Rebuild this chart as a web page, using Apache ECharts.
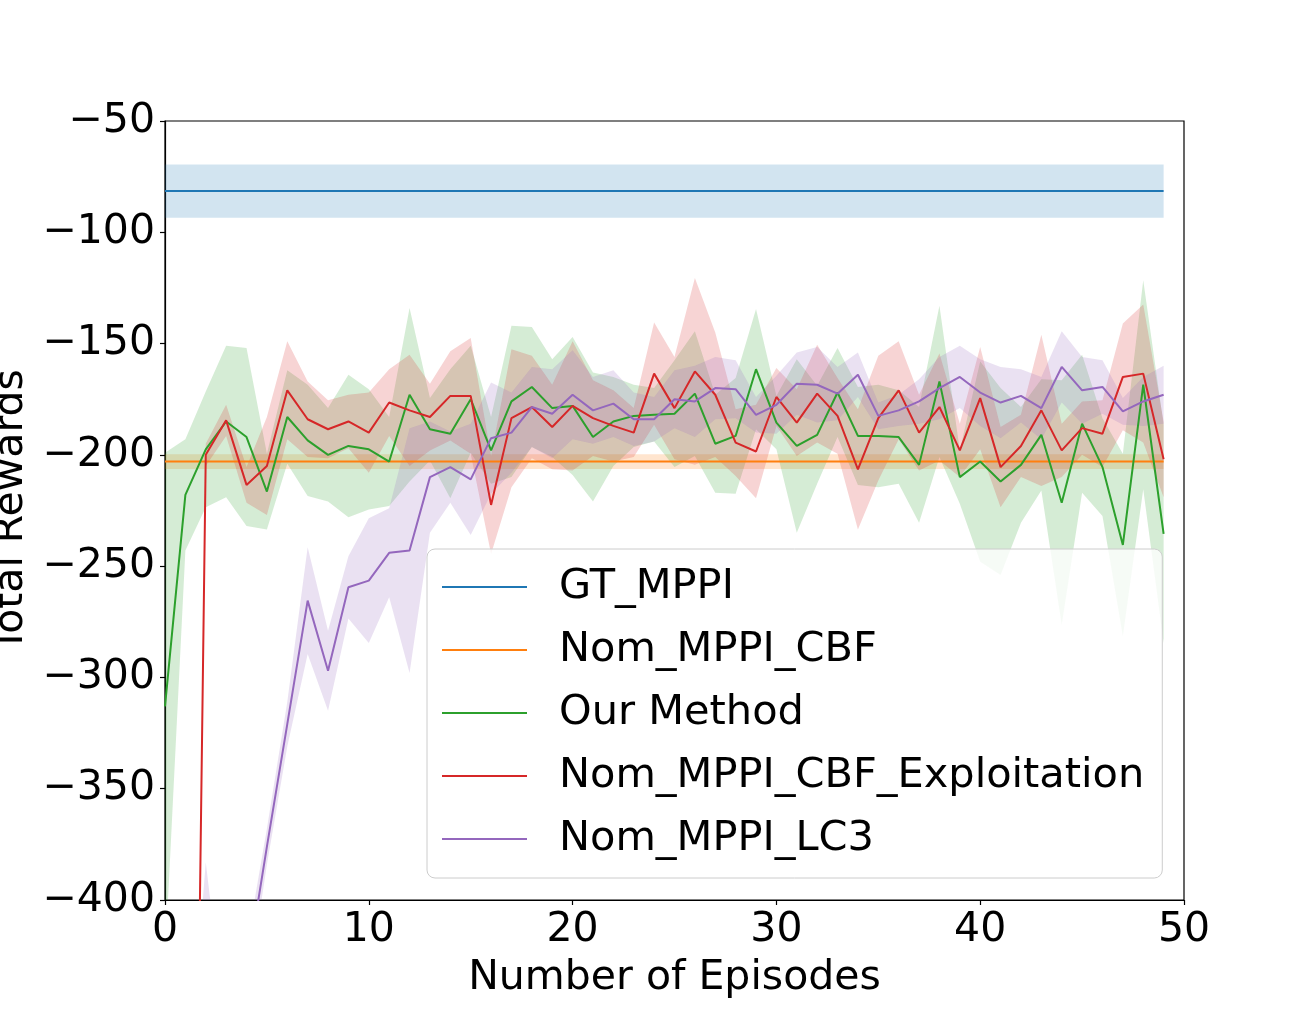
<!DOCTYPE html>
<html lang="en">
<head>
    <meta charset="UTF-8">
    <title>Total Rewards vs Episodes</title>
    <script src="https://cdn.jsdelivr.net/npm/echarts@6/dist/echarts.min.js"></script>
    <style>
        html, body { margin: 0; padding: 0; background: #fff; }
        #chart { width: 1316px; height: 1011px; }
    </style>
</head>
<body>
    <div id="chart"></div>
    <script>
        // episode index 0..49
        var episodes = [0,1,2,3,4,5,6,7,8,9,10,11,12,13,14,15,16,17,18,19,20,21,22,23,24,
                        25,26,27,28,29,30,31,32,33,34,35,36,37,38,39,40,41,42,43,44,45,46,47,48,49];

        // flat baselines (start / end episode)
        var flatEpisodes = [0, 49];
        var gtMean = [-81.5, -81.5];
        var gtStd = [12, 12];
        var cbfMean = [-203, -203];
        var cbfStd = [3.3, 3.3];

        var oursMean = [-313,-218,-197.5,-185,-192,-216.5,-183,-193.5,-200,-196,-197.5,-203,-173,-188.5,-190.5,-175,
                        -198,-176,-169.5,-179,-178,-192,-185,-182.5,-182,-181.5,-172.5,-195,-191.5,-161.5,-185.5,-196,
                        -191,-172,-191.5,-191.5,-192,-204.5,-167,-210,-203,-212,-204.5,-191,-221.5,-186,-205.5,-240.5,
                        -168.5,-235.5];
        var oursStd = [114,25,26,34,40,17,21,25,21,32,27,20,39,14,29,24,15,34,27,22,31,29,20,14,12,24,28,22,26,27,
                       12,39,22,20,22,23,21,26,34,12,45,42,26,25,55,31,22,41,47,49];

        var exploitMean = [-1000,-900,-200,-184.5,-213.5,-205,-171,-184,-188.5,-185,-190,-176.5,-180,-183,-173.5,-173.5,
                           -222.5,-183.5,-178.5,-187.5,-178,-183.5,-187,-190,-163.5,-179,-162.5,-173,-194.5,-198.5,-174,
                           -185.5,-172.5,-182.5,-206.5,-183.5,-171,-190,-178.5,-198,-174.5,-205.5,-196,-180,-198,-188,
                           -190.5,-165,-163.5,-202];
        var exploitStd = [30,30,5,7,8,22,22,17,13,12,18,15,25,15,20,26,22,31,23,19,29,17,16,11,23,23,42,28,15,21,
                          13,15,22,17,27,28,22,17,24,12,23,18,14,34,12,12,15,24,31,17];

        var lc3Mean = [-560,-520,-440,-480,-433,-376,-321,-265.5,-297,-259.5,-256.5,-244,-243,-210,-205.5,-211,
                       -192.5,-190,-178.5,-181.5,-173,-180,-177,-184,-184,-175,-176,-170,-170.5,-182,-177.5,-168,
                       -168.5,-172.5,-164,-182.5,-180,-176,-170,-165,-172,-176.5,-173.5,-179,-160.5,-171,-169.5,
                       -180.5,-176,-173];
        var lc3Std = [20,20,57,20,12,8,10,24,18,14,28,20,55,25,16,25,25,18,18,20,20,15,15,12,10,13,16,14,13,8,
                      13,14,17,12,10,6,7,10,14,14,15,16,12,14,16,15,12,6,11,13];

        var yTicks = [-400, -350, -300, -250, -200, -150, -100, -50];

        var FONT = 'DejaVu Sans';

        function pairs(xs, ys) {
            return xs.map(function (x, i) { return [x, ys[i]]; });
        }

        // shaded mean +/- std band, drawn as one polygon through the axis scales
        function bandSeries(color, xs, mean, std, z) {
            var rows = xs.map(function (x, i) { return [x, mean[i] - std[i], mean[i] + std[i]]; });
            return {
                type: 'custom', silent: true, clip: true, z: z,
                data: rows,
                encode: { x: 0, y: [1, 2] },
                renderItem: function (params, api) {
                    if (params.dataIndex !== 0) return;
                    var pts = [];
                    for (var i = 0; i < rows.length; i++) pts.push(api.coord([rows[i][0], rows[i][2]]));
                    for (var j = rows.length - 1; j >= 0; j--) pts.push(api.coord([rows[j][0], rows[j][1]]));
                    return {
                        type: 'polygon',
                        shape: { points: pts },
                        style: { fill: color, opacity: 0.2 }
                    };
                }
            };
        }

        function lineSeries(name, color, xs, mean, z) {
            return {
                name: name, type: 'line', color: color,
                data: pairs(xs, mean), showSymbol: false, silent: true,
                lineStyle: { color: color, width: 2 }, z: z
            };
        }

        var series = [
            bandSeries('#1f77b4', flatEpisodes, gtMean, gtStd, 1),
            bandSeries('#ff7f0e', flatEpisodes, cbfMean, cbfStd, 1),
            bandSeries('#2ca02c', episodes, oursMean, oursStd, 1),
            bandSeries('#d62728', episodes, exploitMean, exploitStd, 1),
            bandSeries('#9467bd', episodes, lc3Mean, lc3Std, 1),
            lineSeries('GT_MPPI', '#1f77b4', flatEpisodes, gtMean, 5),
            lineSeries('Nom_MPPI_CBF', '#ff7f0e', flatEpisodes, cbfMean, 5),
            lineSeries('Our Method', '#2ca02c', episodes, oursMean, 5),
            lineSeries('Nom_MPPI_CBF_Exploitation', '#d62728', episodes, exploitMean, 5),
            lineSeries('Nom_MPPI_LC3', '#9467bd', episodes, lc3Mean, 5)
        ];

        var chart = echarts.init(document.getElementById('chart'));

        var options = {
            animation: false,
            grid: {
                left: 165, right: 132, top: 121, bottom: 111,
                outerBoundsMode: 'none', containLabel: false,
                show: true, borderColor: '#000', borderWidth: 1.2, backgroundColor: 'transparent'
            },
            legend: {
                orient: 'vertical',
                left: 427, top: 549,
                padding: [17, 18, 18, 15],
                itemWidth: 85, itemHeight: 2.2, itemGap: 21,
                icon: 'rect',
                backgroundColor: 'rgba(255,255,255,0.8)',
                borderColor: '#cccccc', borderWidth: 1, borderRadius: 8,
                data: ['GT_MPPI', 'Nom_MPPI_CBF', 'Our Method', 'Nom_MPPI_CBF_Exploitation', 'Nom_MPPI_LC3'],
                textStyle: { fontFamily: FONT, fontSize: 41.5, color: '#000', lineHeight: 42, padding: [0, 0, 0, 27] },
                selectedMode: false,
                z: 50
            },
            xAxis: {
                type: 'value', min: 0, max: 50, interval: 10,
                name: 'Number of Episodes', nameLocation: 'middle', nameGap: 58,
                nameTextStyle: { fontFamily: FONT, fontSize: 41, color: '#000' },
                axisLine: { show: true, onZero: false, lineStyle: { color: '#000', width: 1.2 } },
                axisTick: { show: true, inside: false, length: 5, lineStyle: { color: '#000', width: 1.2 } },
                axisLabel: { fontFamily: FONT, fontSize: 41, color: '#000', margin: 10 },
                splitLine: { show: false }
            },
            yAxis: {
                type: 'value', min: yTicks[0], max: yTicks[yTicks.length - 1], interval: 50,
                name: 'Total Rewards', nameLocation: 'middle', nameGap: 130,
                nameTextStyle: { fontFamily: FONT, fontSize: 41, color: '#000' },
                axisLine: { show: true, onZero: false, lineStyle: { color: '#000', width: 1.2 } },
                axisTick: { show: true, inside: false, length: 5, lineStyle: { color: '#000', width: 1.2 } },
                axisLabel: {
                    fontFamily: FONT, fontSize: 41, color: '#000', margin: 10,
                    formatter: function (v) { return String(v).replace('-', '\u2212'); }
                },
                splitLine: { show: false }
            },
            series: series
        };

        chart.setOption(options);
    </script>
</body>
</html>
